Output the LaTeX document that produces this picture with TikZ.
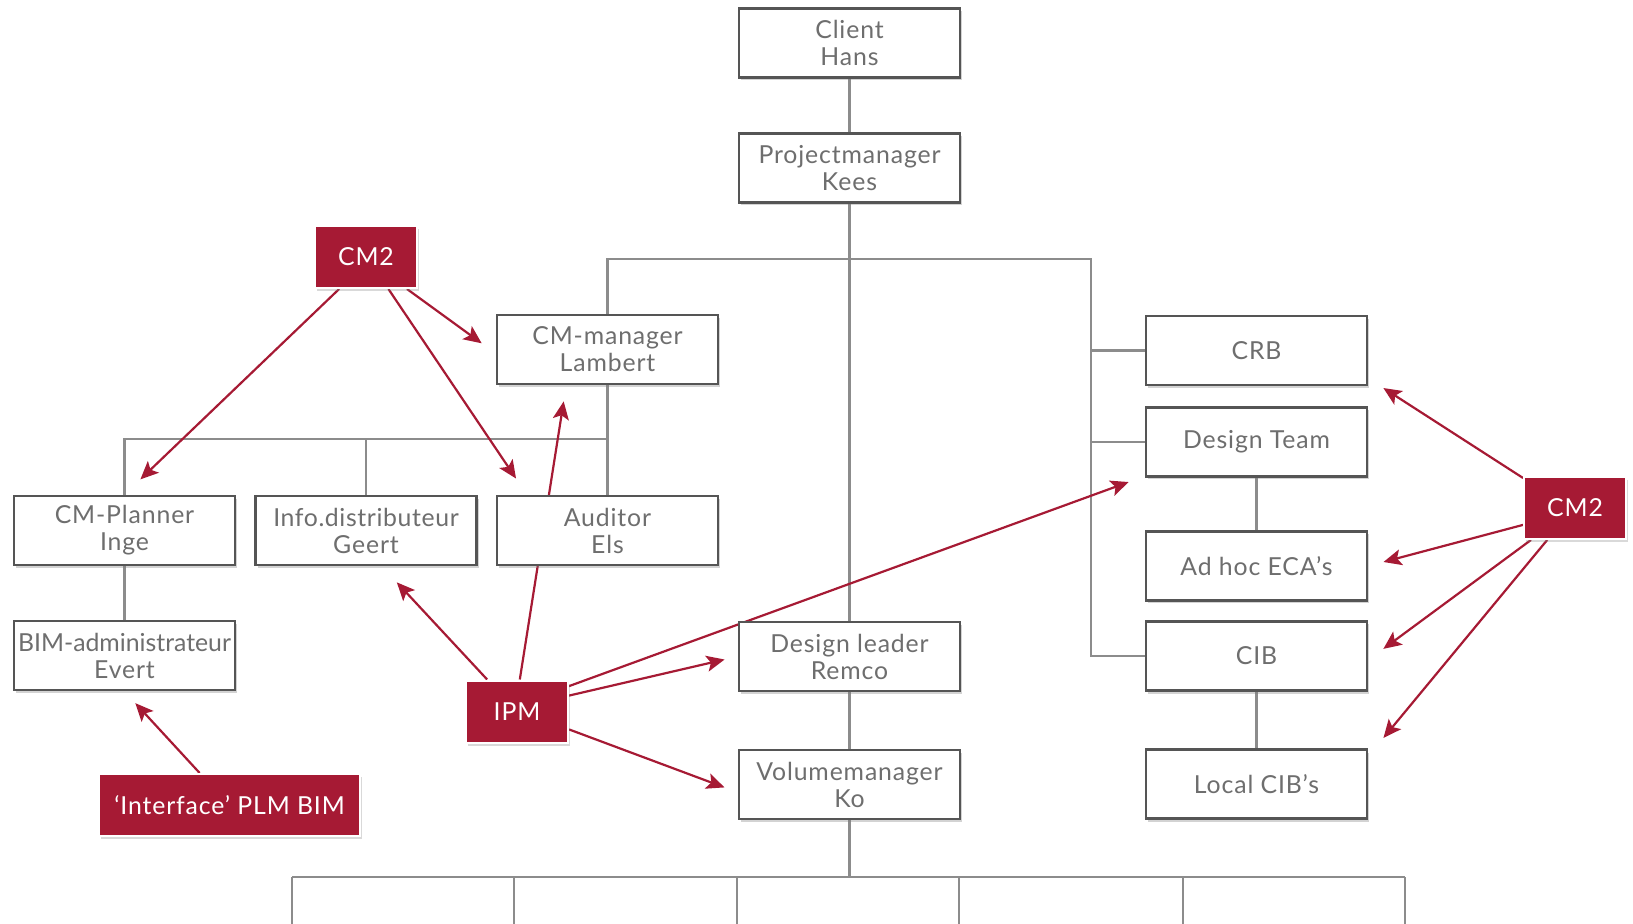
\documentclass[tikz,border=0pt]{standalone}
\usepackage{fontspec}
\setmainfont{Lato}[LetterSpace=3.5]
\usetikzlibrary{shadows,backgrounds,arrows.meta}

\definecolor{cmred}{RGB}{166,26,52}
\definecolor{boxline}{RGB}{85,85,85}
\definecolor{boxtext}{RGB}{110,110,110}
\definecolor{treeline}{RGB}{140,140,140}

\begin{document}
\begin{tikzpicture}[x=0.5pt, y=-0.5pt,
    font=\fontsize{12.4}{13.5}\selectfont,
    node distance=62.5pt,
    box/.style={draw=boxline, line width=1.4pt, fill=white, text=boxtext,
        align=center, minimum width=110.5pt, minimum height=34.5pt, inner xsep=1pt,
        drop shadow={shadow xshift=1pt, shadow yshift=-1.5pt, opacity=0.35}},
    redbox/.style={draw=white, line width=1pt, fill=cmred, text=white,
        minimum width=51pt, minimum height=31pt,
        drop shadow={shadow xshift=1pt, shadow yshift=-1.5pt, opacity=0.3}},
    tree/.style={draw=treeline, line width=1.1pt},
    redarrow/.style={draw=cmred, line width=1.1pt,
        -{Stealth[length=9pt, width=8pt, inset=2pt]}}]
    \useasboundingbox (0,0) rectangle (1633,924);

    \node[box] (01) at (849.5,43) {Client\\Hans};
    \node[box] (02) [below of=01] {Projectmanager\\Kees};

    \node[box] (03) at (607.5,349.5) {CM-manager\\Lambert};
    \node[box] (06) [below of=03, node distance=90.5pt] {Auditor\\Els};
    \node[box] (05) [left of=06, node distance=120.75pt]
        {\addfontfeature{LetterSpace=2.5}Info.distributeur\\Geert};
    \node[box] (04) [left of=05, node distance=120.75pt] {CM-Planner\\Inge};
    \node[box] (07) [below of=04]
        {\addfontfeature{LetterSpace=0}BIM-administrateur\\Evert};

    \node[box] (08) at (849.5,656.5) {Design leader\\Remco};
    \node[box] (09) [below of=08, node distance=64pt] {Volumemanager\\Ko};

    \node[box] (10) at (1256.5,350.5) {CRB};
    \node[box] (11) [below of=10, node distance=45.75pt] {Design Team};
    \node[box] (12) [below of=11, node distance=62pt] {Ad hoc ECA’s};
    \node[box] (13) [below of=12, node distance=45pt] {CIB};
    \node[box] (14) [below of=13, node distance=64pt] {Local CIB’s};

    \node[redbox] (15) at (366,257) {CM2};
    \node[redbox] (16) at (517,711.5) {IPM};
    \node[redbox, minimum width=130.5pt] (17) at (229.5,805) {‘Interface’ PLM BIM};
    \node[redbox] (18) at (1575,508) {CM2};

    \begin{pgfonlayer}{background}
        \coordinate (lbus) at (607.5,439);
        \coordinate (rbus) at (1091,259);
        \coordinate (bus) at (849.5,877);

        \draw[tree] (01) -- (02) -- (08);
        \draw[tree] (08) -- (09);
        \draw[tree] (03.north) |- (rbus) |- (13.west);
        \draw[tree] (10.west) -- (10.west -| rbus);
        \draw[tree] (11.west) -- (11.west -| rbus);
        \draw[tree] (03) -- (06);
        \draw[tree] (04.north) |- (lbus);
        \draw[tree] (05.north) -- (05.north |- lbus);
        \draw[tree] (04) -- (07);
        \draw[tree] (11) -- (12);
        \draw[tree] (13) -- (14);
        \draw[tree] (09) -- (bus);
        \draw[tree] (292,877) -- (1405,877);
        \foreach \x in {292,514,737,959,1183,1405}
            \draw[tree] (\x,877) -- (\x,924);

        \draw[redarrow, shorten >=11pt] (15.230) -- (04.north);
        \draw[redarrow, shorten >=9.7pt] (15.-55) -- (06.156);
        \draw[redarrow, shorten >=8.6pt] (15.-38) -- (03.182);
        \draw[redarrow, shorten >=10.9pt] (16.133) -- (05.-66);
        \draw[redarrow, shorten >=8.1pt] (16.85) -- (03.221);
        \draw[redarrow, shorten >=8.5pt] (16.26) -- (11.197);
        \draw[redarrow, shorten >=6.7pt] (16.17) -- (08.west);
        \draw[redarrow, shorten >=7pt] (16.-19) -- (09.184);
        \draw[redarrow, shorten >=8pt] (17.133) -- (07.south);
        \draw[redarrow, shorten >=8.9pt] (18.150) -- (10.-14.5);
        \draw[redarrow, shorten >=7.8pt] (18.198) -- (12.east);
        \draw[redarrow, shorten >=9.3pt] (18.216) -- (13.-2);
        \draw[redarrow, shorten >=11.8pt] (18.229) -- (14.14);
    \end{pgfonlayer}
\end{tikzpicture}
\end{document}
